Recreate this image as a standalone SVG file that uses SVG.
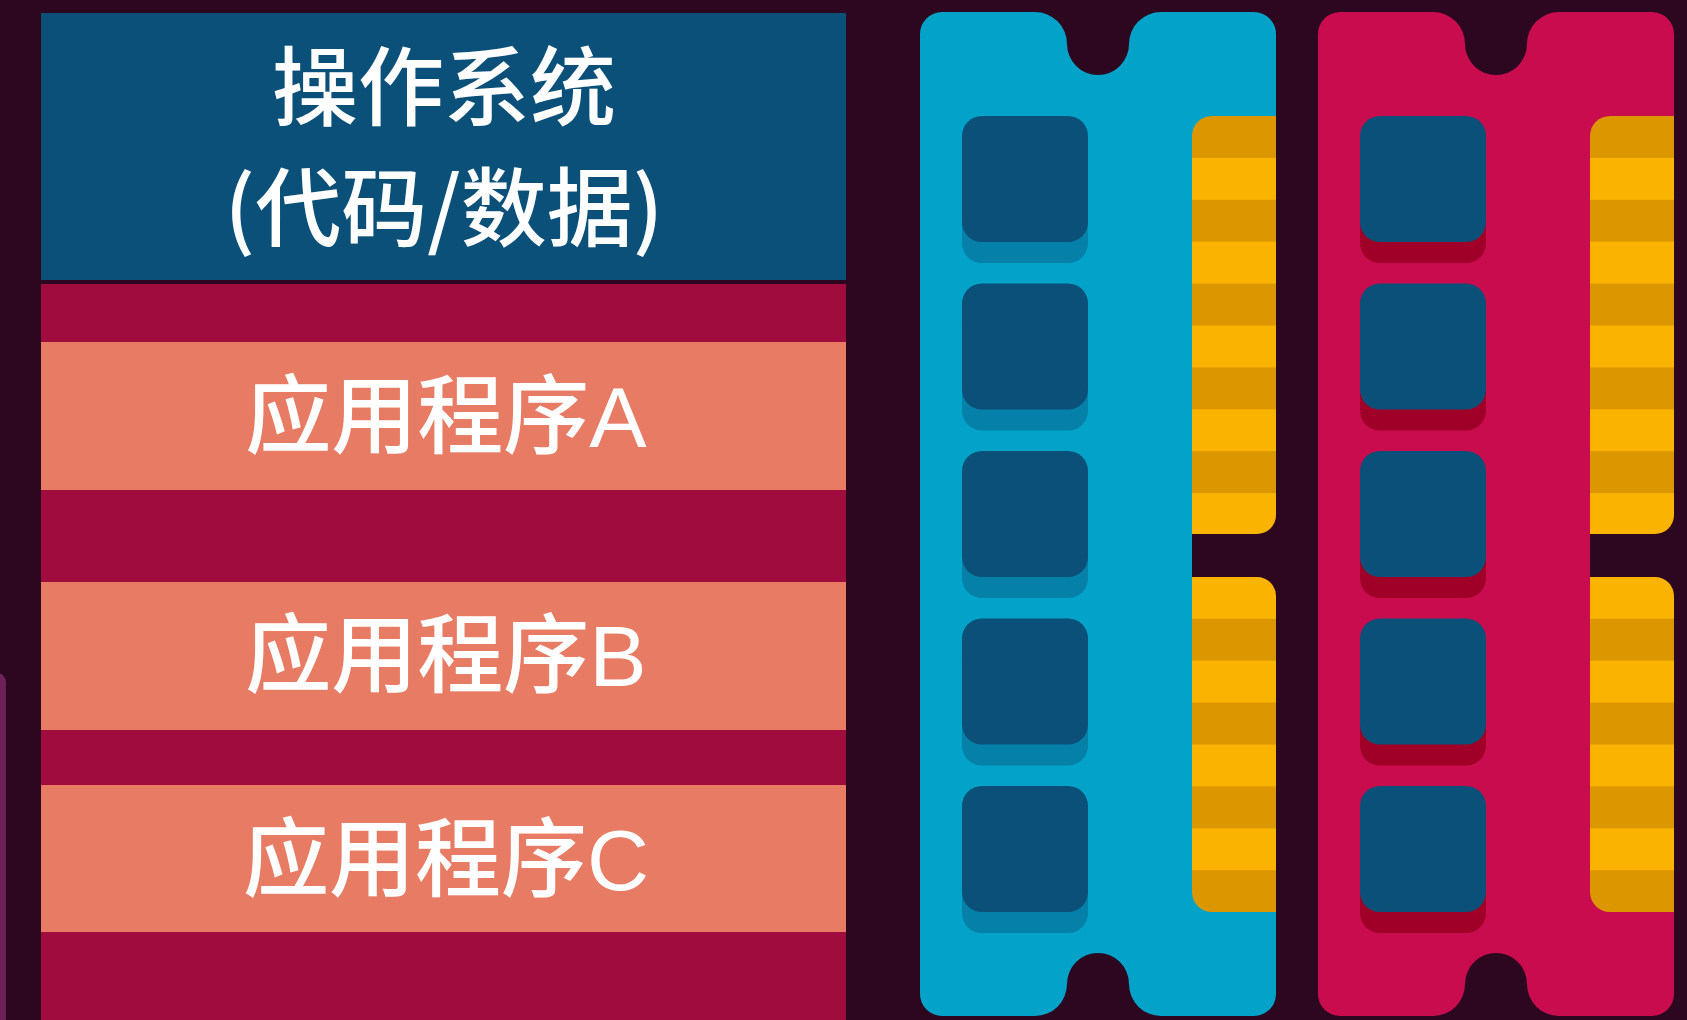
<svg xmlns="http://www.w3.org/2000/svg" xmlns:xlink="http://www.w3.org/1999/xlink" width="1687" height="1020" viewBox="0 0 1687 1020">
  <style>
    .label { font-family: "Noto Sans CJK SC", "Noto Sans", sans-serif; font-size: 86px; font-weight: 500; fill: #ffffff; text-anchor: middle; }
    .latin { font-family: "Liberation Sans", Arial, sans-serif; font-weight: 400; }
    .os { fill: #0a5078; }
    .gap { fill: #a00c3e; }
    .app { fill: #e87b63; }
    .chip { fill: #0b5079; }
  </style>
  <defs>
    <!-- memory module outline with the two key notches and the side contact gap -->
    <path id="board" d="M 942,12 L 1035,12 A 32 32 0 0 1 1067,44 A 31 31 0 0 0 1129,44 A 32 32 0 0 1 1161,12 L 1254,12 A 22 22 0 0 1 1276,34 L 1276,512 L 1192,512 L 1192,599 L 1276,599 L 1276,994 A 22 22 0 0 1 1254,1016 L 1161,1016 A 32 32 0 0 1 1129,984 A 31 31 0 0 0 1067,984 A 32 32 0 0 1 1035,1016 L 942,1016 A 22 22 0 0 1 920,994 L 920,34 A 22 22 0 0 1 942,12 Z"/>
    <rect id="chipShape" width="126" height="126" rx="20" ry="20"/>
    <!-- gold contact stripes -->
    <pattern id="stripes" patternUnits="userSpaceOnUse" x="0" y="116" width="10" height="83.8">
      <rect x="0" y="0" width="10" height="41.9" fill="#dc9600"/>
      <rect x="0" y="41.9" width="10" height="41.9" fill="#fab400"/>
    </pattern>
    <path id="contactsUpper" d="M 1212,116 L 1276,116 L 1276,515 A 19 19 0 0 1 1257,534 L 1192,534 L 1192,136 A 20 20 0 0 1 1212,116 Z"/>
    <path id="contactsLower" d="M 1192,577 L 1257,577 A 19 19 0 0 1 1276,596 L 1276,912 L 1212,912 A 20 20 0 0 1 1192,892 Z"/>
  </defs>

  <!-- backdrop -->
  <rect x="0" y="0" width="1687" height="1020" fill="#2d0620"/>
  <rect x="-30" y="673" width="36" height="400" rx="9" ry="9" fill="#6c2159"/>

  <!-- memory layout column -->
  <g id="memory-layout">
    <rect class="gap" x="41" y="284" width="805" height="736"/>
  </g>
  <g id="os">
    <rect class="os" x="41" y="13" width="805" height="267"/>
    <text class="label" x="444" y="119">操作系统</text>
    <text class="label" x="444" y="240">(代码/数据)</text>
  </g>
  <g id="app-a">
    <rect class="app" x="41" y="342" width="805" height="148"/>
    <text class="label" x="446" y="447">应用程序<tspan class="latin">A</tspan></text>
  </g>
  <g id="app-b">
    <rect class="app" x="41" y="582" width="805" height="148"/>
    <text class="label" x="446" y="686">应用程序<tspan class="latin">B</tspan></text>
  </g>
  <g id="app-c">
    <rect class="app" x="41" y="785" width="805" height="147"/>
    <text class="label" x="446" y="890">应用程序<tspan class="latin">C</tspan></text>
  </g>

  <!-- blue memory module -->
  <g id="ram-blue">
    <use xlink:href="#board" fill="#02a2c9"/>
    <g fill="#0580a8">
      <use xlink:href="#chipShape" x="962" y="137"/>
      <use xlink:href="#chipShape" x="962" y="304.5"/>
      <use xlink:href="#chipShape" x="962" y="472"/>
      <use xlink:href="#chipShape" x="962" y="639.5"/>
      <use xlink:href="#chipShape" x="962" y="807"/>
    </g>
    <g class="chip">
      <use xlink:href="#chipShape" x="962" y="116"/>
      <use xlink:href="#chipShape" x="962" y="283.5"/>
      <use xlink:href="#chipShape" x="962" y="451"/>
      <use xlink:href="#chipShape" x="962" y="618.5"/>
      <use xlink:href="#chipShape" x="962" y="786"/>
    </g>
    <use xlink:href="#contactsUpper" fill="url(#stripes)"/>
    <use xlink:href="#contactsLower" fill="url(#stripes)"/>
  </g>

  <!-- crimson memory module -->
  <g id="ram-red" transform="translate(398,0)">
    <use xlink:href="#board" fill="#c80c4e"/>
    <g fill="#a00028">
      <use xlink:href="#chipShape" x="962" y="137"/>
      <use xlink:href="#chipShape" x="962" y="304.5"/>
      <use xlink:href="#chipShape" x="962" y="472"/>
      <use xlink:href="#chipShape" x="962" y="639.5"/>
      <use xlink:href="#chipShape" x="962" y="807"/>
    </g>
    <g class="chip">
      <use xlink:href="#chipShape" x="962" y="116"/>
      <use xlink:href="#chipShape" x="962" y="283.5"/>
      <use xlink:href="#chipShape" x="962" y="451"/>
      <use xlink:href="#chipShape" x="962" y="618.5"/>
      <use xlink:href="#chipShape" x="962" y="786"/>
    </g>
    <use xlink:href="#contactsUpper" fill="url(#stripes)"/>
    <use xlink:href="#contactsLower" fill="url(#stripes)"/>
  </g>
</svg>
